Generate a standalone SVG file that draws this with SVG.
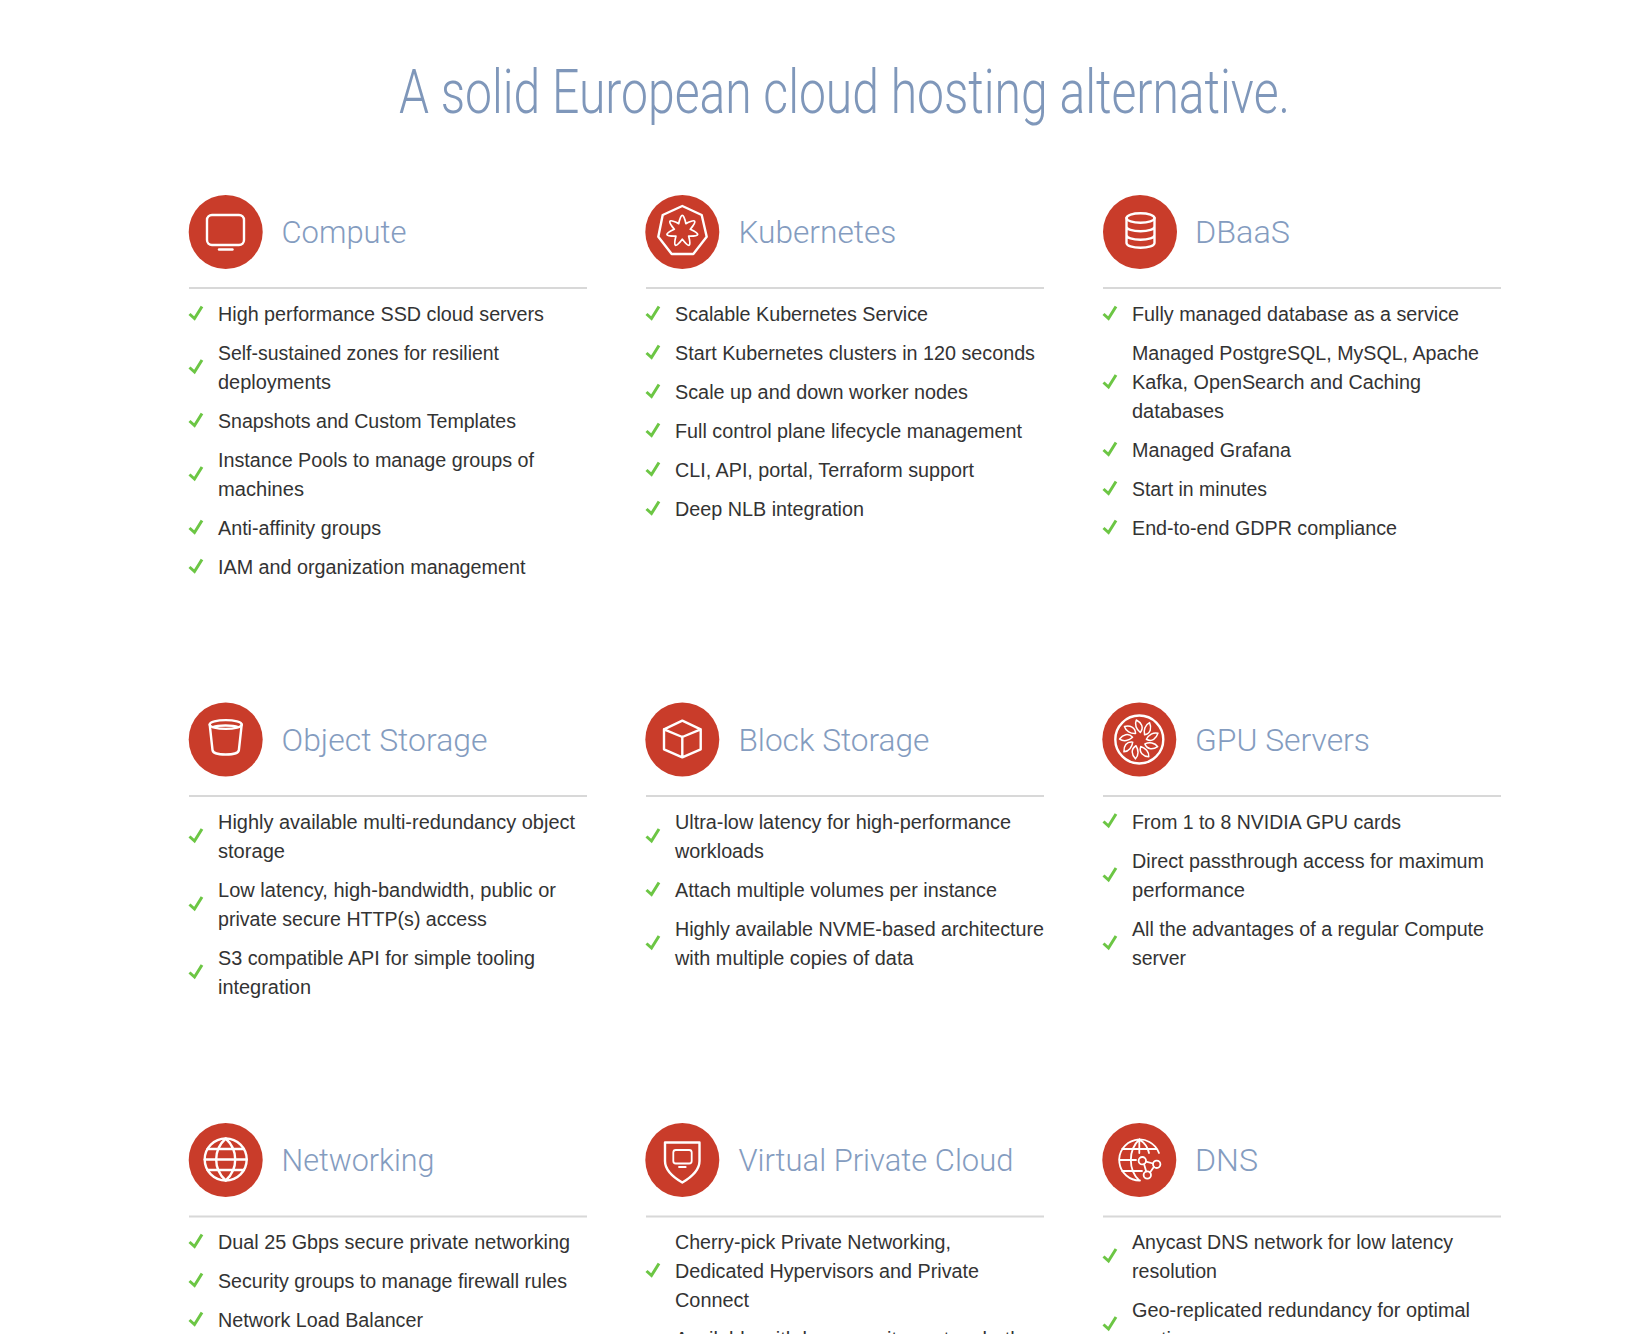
<svg xmlns="http://www.w3.org/2000/svg" width="1640" height="1334" viewBox="0 0 1640 1334">
<style>
text{font-family:"Liberation Sans",Arial,sans-serif}
.title{font-family:Roboto,"Liberation Sans",sans-serif;font-weight:300;font-size:61px;fill:#7f97ba}
.h{font-family:Roboto,"Liberation Sans",sans-serif;font-weight:300;font-size:32px;fill:#849cbf}
.t{font-size:20px;fill:#333}
.c{fill:#c93c2a}
.i{fill:none;stroke:#fff;stroke-width:2.4;stroke-linecap:round;stroke-linejoin:round}
.s{stroke-width:1.8}
.r{stroke:#d8d8d8;stroke-width:2}
.k{fill:none;stroke:#6cc644;stroke-width:3;stroke-linejoin:miter}
</style>
<defs>
<path id="tick" class="k" d="M-6.5 0.5L-1.5 5L6 -7"/>
<path id="leaf" d="M1-7C-3-10-5-15-3-19.5C2-17 5-12 1-7Z" fill="none" stroke="#fff" stroke-width="1.5" stroke-linejoin="round"/>
</defs>
<rect width="1640" height="1334" fill="#fff"/>
<text class="title" x="399" y="113" textLength="891" lengthAdjust="spacingAndGlyphs">A solid European cloud hosting alternative.</text>

<g id="compute">
<circle class="c" cx="225.7" cy="232" r="37"/>
<rect class="i" x="207" y="215" width="37" height="30" rx="5"/><path class="i" d="M219 249.5H232.5"/>
<text class="h" x="281.5" y="243" textLength="125" lengthAdjust="spacingAndGlyphs">Compute</text><line class="r" x1="189" y1="288" x2="587" y2="288"/>
<use href="#tick" x="196" y="313.5"/><text class="t" x="218" y="321" textLength="326" lengthAdjust="spacingAndGlyphs">High performance SSD cloud servers</text>
<use href="#tick" x="196" y="367"/><text class="t" x="218" y="360" textLength="281" lengthAdjust="spacingAndGlyphs">Self-sustained zones for resilient</text><text class="t" x="218" y="389" textLength="113" lengthAdjust="spacingAndGlyphs">deployments</text>
<use href="#tick" x="196" y="420.5"/><text class="t" x="218" y="428" textLength="298" lengthAdjust="spacingAndGlyphs">Snapshots and Custom Templates</text>
<use href="#tick" x="196" y="474"/><text class="t" x="218" y="467" textLength="316" lengthAdjust="spacingAndGlyphs">Instance Pools to manage groups of</text><text class="t" x="218" y="496" textLength="86" lengthAdjust="spacingAndGlyphs">machines</text>
<use href="#tick" x="196" y="527.5"/><text class="t" x="218" y="535" textLength="163" lengthAdjust="spacingAndGlyphs">Anti-affinity groups</text>
<use href="#tick" x="196" y="566.5"/><text class="t" x="218" y="574" textLength="307.5" lengthAdjust="spacingAndGlyphs">IAM and organization management</text>
</g>

<g id="kubernetes">
<circle class="c" cx="682.3" cy="232" r="37"/>
<path class="i" d="M682.3 206L701.7 215L706.7 236.7L693.3 254H671.7L658.3 236.7L662.7 215Z"/>
<path class="i s" transform="translate(682.3 231)" d="M-3.6-7.4Q0-24 3.6-7.4Q18.9-15 8-1.8Q23.5 5.4 6.4 5.1Q10.5 21.7 0 8.2Q-10.5 21.7-6.4 5.1Q-23.5 5.4-8-1.8Q-18.9-15-3.6-7.4Z"/>
<text class="h" x="738.4" y="243" textLength="158" lengthAdjust="spacingAndGlyphs">Kubernetes</text><line class="r" x1="646" y1="288" x2="1044" y2="288"/>
<use href="#tick" x="653" y="313.5"/><text class="t" x="675" y="321" textLength="253" lengthAdjust="spacingAndGlyphs">Scalable Kubernetes Service</text>
<use href="#tick" x="653" y="352.5"/><text class="t" x="675" y="360" textLength="360" lengthAdjust="spacingAndGlyphs">Start Kubernetes clusters in 120 seconds</text>
<use href="#tick" x="653" y="391.5"/><text class="t" x="675" y="399" textLength="293" lengthAdjust="spacingAndGlyphs">Scale up and down worker nodes</text>
<use href="#tick" x="653" y="430.5"/><text class="t" x="675" y="438" textLength="347" lengthAdjust="spacingAndGlyphs">Full control plane lifecycle management</text>
<use href="#tick" x="653" y="469.5"/><text class="t" x="675" y="477" textLength="299" lengthAdjust="spacingAndGlyphs">CLI, API, portal, Terraform support</text>
<use href="#tick" x="653" y="508.5"/><text class="t" x="675" y="516" textLength="189" lengthAdjust="spacingAndGlyphs">Deep NLB integration</text>
</g>

<g id="dbaas">
<circle class="c" cx="1140" cy="232" r="37"/>
<ellipse class="i" cx="1140.5" cy="218" rx="14" ry="4.8"/>
<path class="i" d="M1126.5 218V243C1126.5 245.7 1132.5 247.8 1140.5 247.8S1154.5 245.7 1154.5 243V218M1126.5 226.5C1126.5 229.2 1132.5 231.3 1140.5 231.3S1154.5 229.2 1154.5 226.5M1126.5 235C1126.5 237.7 1132.5 239.8 1140.5 239.8S1154.5 237.7 1154.5 235"/>
<text class="h" x="1195" y="243" textLength="95" lengthAdjust="spacingAndGlyphs">DBaaS</text><line class="r" x1="1103" y1="288" x2="1501" y2="288"/>
<use href="#tick" x="1110" y="313.5"/><text class="t" x="1132" y="321" textLength="327" lengthAdjust="spacingAndGlyphs">Fully managed database as a service</text>
<use href="#tick" x="1110" y="382"/><text class="t" x="1132" y="360" textLength="347" lengthAdjust="spacingAndGlyphs">Managed PostgreSQL, MySQL, Apache</text><text class="t" x="1132" y="389" textLength="289" lengthAdjust="spacingAndGlyphs">Kafka, OpenSearch and Caching</text><text class="t" x="1132" y="418" textLength="92" lengthAdjust="spacingAndGlyphs">databases</text>
<use href="#tick" x="1110" y="449.5"/><text class="t" x="1132" y="457" textLength="159" lengthAdjust="spacingAndGlyphs">Managed Grafana</text>
<use href="#tick" x="1110" y="488.5"/><text class="t" x="1132" y="496" textLength="135" lengthAdjust="spacingAndGlyphs">Start in minutes</text>
<use href="#tick" x="1110" y="527.5"/><text class="t" x="1132" y="535" textLength="265" lengthAdjust="spacingAndGlyphs">End-to-end GDPR compliance</text>
</g>

<g id="object-storage">
<circle class="c" cx="225.7" cy="739.5" r="37"/>
<ellipse class="i" cx="225.7" cy="724.5" rx="16" ry="4.4"/>
<path class="i" d="M209.7 724.5L212.5 750C212.8 752.8 218 754.5 225.7 754.5S238.6 752.8 238.9 750L241.7 724.5M213 727C218 725 233 725 238 727"/>
<text class="h" x="281.5" y="751" textLength="206" lengthAdjust="spacingAndGlyphs">Object Storage</text><line class="r" x1="189" y1="796" x2="587" y2="796"/>
<use href="#tick" x="196" y="836"/><text class="t" x="218" y="829" textLength="357" lengthAdjust="spacingAndGlyphs">Highly available multi-redundancy object</text><text class="t" x="218" y="858" textLength="67" lengthAdjust="spacingAndGlyphs">storage</text>
<use href="#tick" x="196" y="904"/><text class="t" x="218" y="897" textLength="338" lengthAdjust="spacingAndGlyphs">Low latency, high-bandwidth, public or</text><text class="t" x="218" y="926" textLength="268.8" lengthAdjust="spacingAndGlyphs">private secure HTTP(s) access</text>
<use href="#tick" x="196" y="972"/><text class="t" x="218" y="965" textLength="317" lengthAdjust="spacingAndGlyphs">S3 compatible API for simple tooling</text><text class="t" x="218" y="994" textLength="93" lengthAdjust="spacingAndGlyphs">integration</text>
</g>

<g id="block-storage">
<circle class="c" cx="682.3" cy="739.5" r="37"/>
<path class="i" d="M682.3 720.7L700.7 729.3V749.3L682.3 757.3L664 749.3V729.3ZM664 729.3L682.3 737L700.7 729.3M682.3 737V757.3"/>
<text class="h" x="738.4" y="751" textLength="191" lengthAdjust="spacingAndGlyphs">Block Storage</text><line class="r" x1="646" y1="796" x2="1044" y2="796"/>
<use href="#tick" x="653" y="836"/><text class="t" x="675" y="829" textLength="336" lengthAdjust="spacingAndGlyphs">Ultra-low latency for high-performance</text><text class="t" x="675" y="858" textLength="89" lengthAdjust="spacingAndGlyphs">workloads</text>
<use href="#tick" x="653" y="889.5"/><text class="t" x="675" y="897" textLength="322" lengthAdjust="spacingAndGlyphs">Attach multiple volumes per instance</text>
<use href="#tick" x="653" y="943"/><text class="t" x="675" y="936" textLength="369" lengthAdjust="spacingAndGlyphs">Highly available NVME-based architecture</text><text class="t" x="675" y="965" textLength="238.5" lengthAdjust="spacingAndGlyphs">with multiple copies of data</text>
</g>

<g id="gpu-servers">
<circle class="c" cx="1139.3" cy="739.5" r="37"/>
<circle class="i" cx="1139.3" cy="739.5" r="24"/>
<g transform="translate(1139.3 739.5)">
<use href="#leaf"/><use href="#leaf" transform="rotate(40)"/><use href="#leaf" transform="rotate(80)"/><use href="#leaf" transform="rotate(120)"/><use href="#leaf" transform="rotate(160)"/><use href="#leaf" transform="rotate(200)"/><use href="#leaf" transform="rotate(240)"/><use href="#leaf" transform="rotate(280)"/><use href="#leaf" transform="rotate(320)"/>
</g>
<text class="h" x="1195" y="751" textLength="175" lengthAdjust="spacingAndGlyphs">GPU Servers</text><line class="r" x1="1103" y1="796" x2="1501" y2="796"/>
<use href="#tick" x="1110" y="821"/><text class="t" x="1132" y="829" textLength="269" lengthAdjust="spacingAndGlyphs">From 1 to 8 NVIDIA GPU cards</text>
<use href="#tick" x="1110" y="875"/><text class="t" x="1132" y="868" textLength="352" lengthAdjust="spacingAndGlyphs">Direct passthrough access for maximum</text><text class="t" x="1132" y="897" textLength="113" lengthAdjust="spacingAndGlyphs">performance</text>
<use href="#tick" x="1110" y="943"/><text class="t" x="1132" y="936" textLength="352" lengthAdjust="spacingAndGlyphs">All the advantages of a regular Compute</text><text class="t" x="1132" y="965" textLength="54" lengthAdjust="spacingAndGlyphs">server</text>
</g>

<g id="networking">
<circle class="c" cx="225.7" cy="1160" r="37"/>
<circle class="i" cx="225.7" cy="1159.5" r="21"/>
<path class="i" d="M225.7 1138.5C213 1150 213 1169 225.7 1180.5C238.4 1169 238.4 1150 225.7 1138.5ZM207.5 1149H244M204.7 1159.5H246.7M207.5 1170H244"/>
<text class="h" x="281.5" y="1171" textLength="153" lengthAdjust="spacingAndGlyphs">Networking</text><line class="r" x1="189" y1="1216.5" x2="587" y2="1216.5"/>
<use href="#tick" x="196" y="1241.5"/><text class="t" x="218" y="1249" textLength="352" lengthAdjust="spacingAndGlyphs">Dual 25 Gbps secure private networking</text>
<use href="#tick" x="196" y="1280.5"/><text class="t" x="218" y="1288" textLength="349" lengthAdjust="spacingAndGlyphs">Security groups to manage firewall rules</text>
<use href="#tick" x="196" y="1319.5"/><text class="t" x="218" y="1327" textLength="205" lengthAdjust="spacingAndGlyphs">Network Load Balancer</text>
</g>

<g id="vpc">
<circle class="c" cx="682.3" cy="1160" r="37"/>
<path class="i" d="M665 1142.5H699.5V1161C699.5 1171 690 1178 682.3 1182.5C674.5 1178 665 1171 665 1161Z"/>
<rect class="i s" x="673.3" y="1150" width="18.4" height="13.5" rx="2.5"/><path class="i s" d="M679 1167H685.7"/>
<text class="h" x="738.4" y="1171" textLength="275" lengthAdjust="spacingAndGlyphs">Virtual Private Cloud</text><line class="r" x1="646" y1="1216.5" x2="1044" y2="1216.5"/>
<use href="#tick" x="653" y="1270.5"/><text class="t" x="675" y="1249" textLength="276" lengthAdjust="spacingAndGlyphs">Cherry-pick Private Networking,</text><text class="t" x="675" y="1278" textLength="304" lengthAdjust="spacingAndGlyphs">Dedicated Hypervisors and Private</text><text class="t" x="675" y="1307" textLength="74" lengthAdjust="spacingAndGlyphs">Connect</text>
<text class="t" x="675" y="1346">Available with low security cost on both</text>
</g>

<g id="dns">
<circle class="c" cx="1139.3" cy="1160" r="37"/>
<path class="i s" d="M1159 1153A20.5 20.5 0 1 0 1140 1180.5M1139.3 1139.5C1128 1150 1128 1170 1139.3 1180.5M1139.3 1139.5C1145 1143 1148 1148 1149 1153M1139.3 1139.5V1153M1122 1149H1157M1119 1160H1136M1122 1171H1142"/>
<circle class="i s" cx="1142.3" cy="1160.7" r="3.7"/><circle class="i s" cx="1156.7" cy="1164.3" r="3.7"/><circle class="i s" cx="1147.3" cy="1175" r="3.7"/>
<path class="i s" d="M1146 1161.7L1153 1163.5M1144 1164L1146.2 1171.4M1153.8 1167L1150 1172.4"/>
<text class="h" x="1195" y="1171" textLength="63" lengthAdjust="spacingAndGlyphs">DNS</text><line class="r" x1="1103" y1="1216.5" x2="1501" y2="1216.5"/>
<use href="#tick" x="1110" y="1256"/><text class="t" x="1132" y="1249" textLength="321" lengthAdjust="spacingAndGlyphs">Anycast DNS network for low latency</text><text class="t" x="1132" y="1278" textLength="85" lengthAdjust="spacingAndGlyphs">resolution</text>
<use href="#tick" x="1110" y="1324"/><text class="t" x="1132" y="1317" textLength="338" lengthAdjust="spacingAndGlyphs">Geo-replicated redundancy for optimal</text><text class="t" x="1132" y="1346">routing</text>
</g>
</svg>
